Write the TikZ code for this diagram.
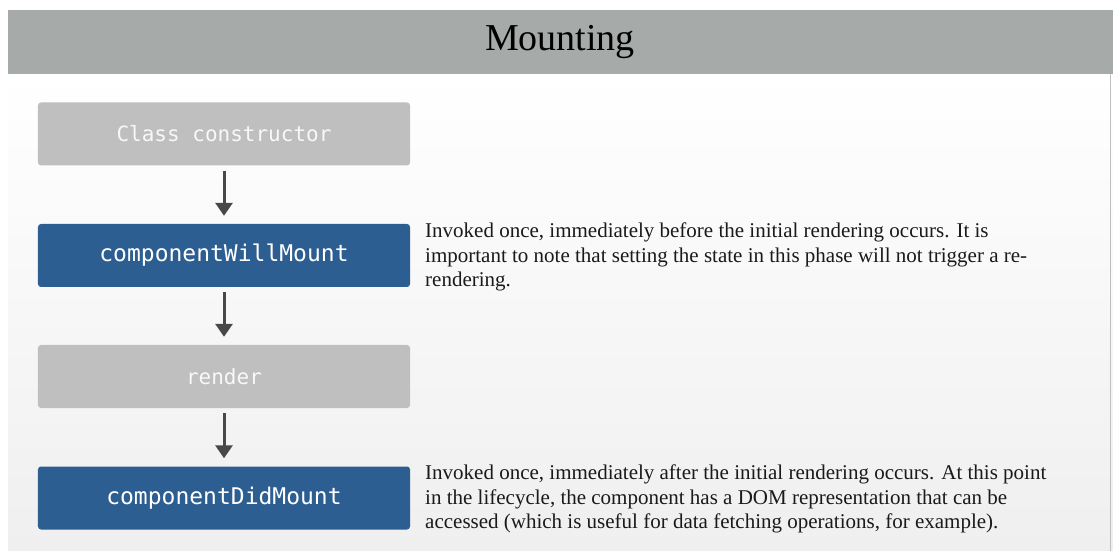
\documentclass[tikz,border=0pt]{standalone}
\usepackage{fontspec}
\setmainfont{Liberation Serif}
\newfontfamily\boxfont{DejaVu Sans Mono}
\usetikzlibrary{arrows.meta}
\definecolor{hdrgray}{HTML}{A6AAA8}
\definecolor{boxgray}{HTML}{BFBFBF}
\definecolor{boxblue}{HTML}{2C5E92}
\definecolor{arrowgray}{HTML}{484848}
\definecolor{bodylow}{HTML}{EFEFEF}
\definecolor{boxtext}{HTML}{F8F8F8}
\definecolor{desctext}{HTML}{1A1A1A}
\tikzset{
  stepbox/.style={rectangle, rounded corners=3bp, minimum width=372bp, minimum height=63bp, inner sep=0pt, text=boxtext},
  graybox/.style={stepbox, fill=boxgray, font=\boxfont\fontsize{21bp}{24bp}\selectfont},
  bluebox/.style={stepbox, fill=boxblue, text=white, font=\boxfont\fontsize{23bp}{26bp}\selectfont},
  flowarrow/.style={draw=arrowgray, line width=3bp, -{Triangle[length=13bp,width=17bp]}, shorten <=5bp, shorten >=8bp},
  desc/.style={anchor=north west, inner sep=0pt, align=left, text=desctext, font=\fontsize{21bp}{24.5bp}\selectfont}
}
\begin{document}
\begin{tikzpicture}[x=1bp,y=-1bp]
\useasboundingbox (0,0) rectangle (1113,551);
\fill[white] (0,0) rectangle (1113,551);
\shade[top color=white, bottom color=bodylow] (8,74) rectangle (1113,551);
\draw[bodylow!80!black, line width=0.6bp] (1110,74) -- (1110,551);
\fill[hdrgray] (8,10) rectangle (1113,74);
\node[font=\fontsize{38bp}{42bp}\selectfont] (title) at (560,42) {Mounting};
\node[graybox] (ctor) at (224,134) {Class constructor};
\node[bluebox] (cwm) at (224,255.5) {componentWillMount};
\node[graybox] (render) at (224,376.5) {render};
\node[bluebox] (cdm) at (224,498) {componentDidMount};
\draw[flowarrow] (ctor) -- (cwm);
\draw[flowarrow] (cwm) -- (render);
\draw[flowarrow] (render) -- (cdm);
\node[desc] (cwmtext) at (425,223) {Invoked once, immediately before the initial rendering occurs. It is\\important to note that setting the state in this phase will not trigger a re-\\rendering.};
\node[desc] (cdmtext) at (425,465) {Invoked once, immediately after the initial rendering occurs. At this point\\in the lifecycle, the component has a DOM representation that can be\\accessed (which is useful for data fetching operations, for example).};
\end{tikzpicture}
\end{document}
